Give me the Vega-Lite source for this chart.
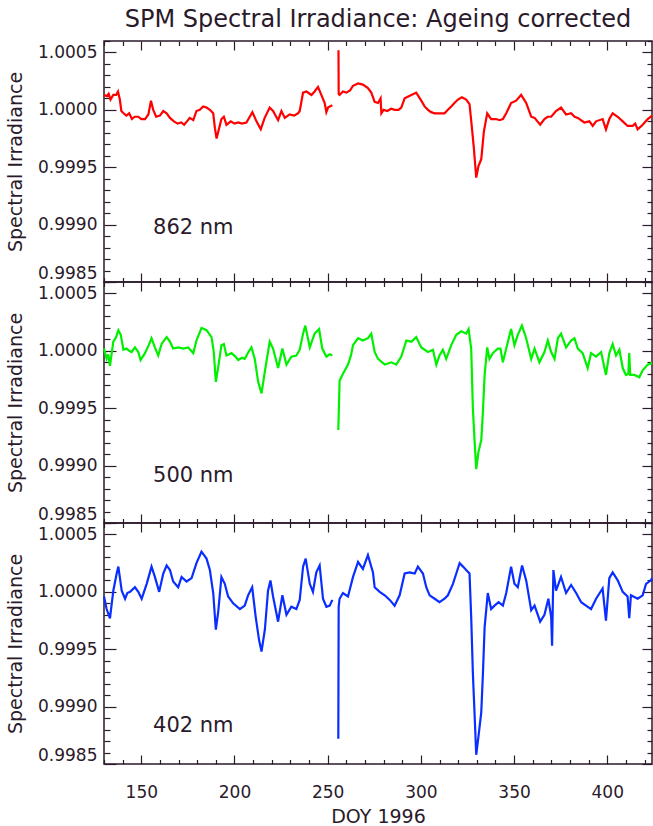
{
  "$schema": "https://vega.github.io/schema/vega-lite/v6.json",
  "padding": {"left": 5, "top": 7, "right": 0, "bottom": 0},
  "title": {
    "text": "SPM Spectral Irradiance: Ageing corrected",
    "font": "DejaVu Sans", "fontSize": 24, "fontWeight": "normal",
    "color": "#2a1a2a", "anchor": "middle", "frame": "group", "offset": 8
  },
  "datasets": {
    "r862": [
      {"doy":130,"irr":1.00013},{"doy":131.5,"irr":1.00012},{"doy":132.5,"irr":1.00014},{"doy":133.5,"irr":1.00009},{"doy":135,"irr":1.00013},{"doy":136.5,"irr":1.00013},{"doy":137.5,"irr":1.00016},{"doy":138.5,"irr":1.00009},{"doy":139.3,"irr":0.99999},{"doy":140.5,"irr":0.99997},{"doy":142,"irr":0.99995},{"doy":143.5,"irr":0.99997},{"doy":145,"irr":0.99992},{"doy":146.5,"irr":0.99994},{"doy":148.4,"irr":0.99994},{"doy":150,"irr":0.99992},{"doy":152,"irr":0.99992},{"doy":153.8,"irr":0.99996},{"doy":155.2,"irr":1.00008},{"doy":156.4,"irr":1.0},{"doy":158,"irr":0.99994},{"doy":160,"irr":0.99995},{"doy":161.8,"irr":0.99999},{"doy":163.6,"irr":0.99997},{"doy":165.4,"irr":0.99993},{"doy":167.5,"irr":0.9999},{"doy":169.5,"irr":0.99988},{"doy":171.5,"irr":0.99989},{"doy":173,"irr":0.99987},{"doy":174.5,"irr":0.9999},{"doy":176,"irr":0.99993},{"doy":177.9,"irr":0.99991},{"doy":179.6,"irr":0.99999},{"doy":181.4,"irr":1.0},{"doy":183.2,"irr":1.00003},{"doy":185,"irr":1.00002},{"doy":186.8,"irr":1.0},{"doy":188.6,"irr":0.99997},{"doy":189.5,"irr":0.99984},{"doy":190.4,"irr":0.99975},{"doy":191.3,"irr":0.99981},{"doy":193,"irr":0.99992},{"doy":194.3,"irr":0.99994},{"doy":195.7,"irr":0.99987},{"doy":198,"irr":0.9999},{"doy":200,"irr":0.99988},{"doy":202,"irr":0.99989},{"doy":204,"irr":0.99988},{"doy":206.4,"irr":0.99989},{"doy":208.2,"irr":0.99994},{"doy":209.6,"irr":0.99998},{"doy":211.8,"irr":0.9999},{"doy":214.1,"irr":0.99983},{"doy":216.2,"irr":0.99993},{"doy":218.9,"irr":1.00002},{"doy":220.7,"irr":0.99999},{"doy":223.4,"irr":0.99991},{"doy":225.2,"irr":0.99999},{"doy":227,"irr":0.99993},{"doy":229.6,"irr":0.99996},{"doy":232,"irr":0.99995},{"doy":234.1,"irr":0.99997},{"doy":235,"irr":0.99999},{"doy":236.8,"irr":1.00015},{"doy":238.6,"irr":1.00016},{"doy":241.3,"irr":1.00013},{"doy":243,"irr":1.00016},{"doy":244.8,"irr":1.0002},{"doy":246.6,"irr":1.00013},{"doy":248.4,"irr":1.00006},{"doy":249.3,"irr":0.99998},{"doy":250.2,"irr":1.00002},{"doy":251.2,"irr":1.00003},{"doy":252.5,"irr":1.00004},{"doy":254,"irr":null},{"doy":255.8,"irr":1.00052},{"doy":255.9,"irr":1.00014},{"doy":256.4,"irr":1.00013},{"doy":258.2,"irr":1.00016},{"doy":260,"irr":1.00015},{"doy":262,"irr":1.00017},{"doy":263.6,"irr":1.00021},{"doy":266.3,"irr":1.00023},{"doy":268.9,"irr":1.00022},{"doy":271.6,"irr":1.00019},{"doy":273.4,"irr":1.00015},{"doy":275.2,"irr":1.00007},{"doy":277,"irr":1.00006},{"doy":278.4,"irr":1.0001},{"doy":278.8,"irr":0.99997},{"doy":280,"irr":1.0},{"doy":282,"irr":0.99999},{"doy":284,"irr":1.00001},{"doy":286,"irr":1.0},{"doy":288,"irr":1.0},{"doy":289.5,"irr":1.00002},{"doy":291.3,"irr":1.0001},{"doy":294.9,"irr":1.00013},{"doy":297.5,"irr":1.00015},{"doy":300.2,"irr":1.00008},{"doy":302,"irr":1.00003},{"doy":303.8,"irr":1.0},{"doy":305.5,"irr":0.99998},{"doy":307.4,"irr":0.99997},{"doy":310,"irr":0.99997},{"doy":312.7,"irr":0.99997},{"doy":314.5,"irr":1.0},{"doy":316.3,"irr":1.00003},{"doy":318,"irr":1.00006},{"doy":319.9,"irr":1.00009},{"doy":322,"irr":1.00011},{"doy":324.3,"irr":1.00009},{"doy":326.1,"irr":1.00005},{"doy":327.4,"irr":0.99984},{"doy":328.4,"irr":0.99967},{"doy":329.7,"irr":0.99941},{"doy":330.9,"irr":0.99951},{"doy":332.4,"irr":0.99957},{"doy":333.8,"irr":0.99981},{"doy":335.6,"irr":0.99997},{"doy":337.7,"irr":0.99992},{"doy":340.4,"irr":0.99992},{"doy":342.2,"irr":0.99991},{"doy":344,"irr":0.99992},{"doy":345.8,"irr":0.99997},{"doy":348.4,"irr":1.00006},{"doy":351.1,"irr":1.00008},{"doy":353.8,"irr":1.00013},{"doy":356.5,"irr":1.00006},{"doy":359.2,"irr":0.99994},{"doy":361,"irr":0.99993},{"doy":364,"irr":0.99987},{"doy":366.3,"irr":0.99992},{"doy":368,"irr":0.99994},{"doy":369.9,"irr":0.99994},{"doy":372.5,"irr":0.99999},{"doy":375.2,"irr":1.00002},{"doy":377.9,"irr":0.99996},{"doy":380.6,"irr":0.99997},{"doy":382.5,"irr":0.99994},{"doy":384.2,"irr":0.99993},{"doy":387.7,"irr":0.99989},{"doy":390.4,"irr":0.9999},{"doy":392.2,"irr":0.99986},{"doy":394,"irr":0.9999},{"doy":397.5,"irr":0.99992},{"doy":399.3,"irr":0.99983},{"doy":401.1,"irr":0.99992},{"doy":402.9,"irr":0.99997},{"doy":405.6,"irr":0.99994},{"doy":408.3,"irr":0.9999},{"doy":410.9,"irr":0.99986},{"doy":413.6,"irr":0.99986},{"doy":415,"irr":0.99988},{"doy":416.3,"irr":0.99983},{"doy":419,"irr":0.99987},{"doy":421.7,"irr":0.99992},{"doy":423.4,"irr":0.99994},{"doy":424,"irr":0.99995}
    ],
    "g500": [
      {"doy":130,"irr":1.00002},{"doy":131.4,"irr":0.99993},{"doy":132.3,"irr":0.99997},{"doy":133.2,"irr":0.99987},{"doy":135,"irr":1.00008},{"doy":136.5,"irr":1.00012},{"doy":137.7,"irr":1.00018},{"doy":139,"irr":1.00014},{"doy":140.4,"irr":1.00001},{"doy":142.1,"irr":1.00002},{"doy":143.5,"irr":1.0},{"doy":144.8,"irr":0.99999},{"doy":146.6,"irr":1.00003},{"doy":148.4,"irr":0.99999},{"doy":149.6,"irr":0.99992},{"doy":152,"irr":0.99998},{"doy":154,"irr":1.00005},{"doy":155.5,"irr":1.00011},{"doy":157.3,"irr":1.00003},{"doy":159.1,"irr":0.99996},{"doy":160.9,"irr":1.00006},{"doy":163.6,"irr":1.00012},{"doy":165.4,"irr":1.00008},{"doy":167.1,"irr":1.00002},{"doy":169.8,"irr":1.00003},{"doy":172.5,"irr":1.00002},{"doy":175.2,"irr":1.00003},{"doy":177.9,"irr":0.99998},{"doy":179.6,"irr":1.00009},{"doy":182.3,"irr":1.0002},{"doy":185,"irr":1.00018},{"doy":187.7,"irr":1.00012},{"doy":188.9,"irr":0.99999},{"doy":190,"irr":0.99973},{"doy":191.3,"irr":0.99986},{"doy":193,"irr":1.00005},{"doy":194.3,"irr":1.00006},{"doy":195.7,"irr":0.99996},{"doy":198.4,"irr":0.99998},{"doy":200.5,"irr":0.99995},{"doy":202,"irr":0.99992},{"doy":204,"irr":0.99994},{"doy":205.5,"irr":0.99993},{"doy":207.5,"irr":0.99999},{"doy":209.1,"irr":1.00003},{"doy":210.9,"irr":0.99993},{"doy":212.7,"irr":0.99973},{"doy":214.5,"irr":0.99963},{"doy":216.3,"irr":0.99982},{"doy":218.9,"irr":1.00008},{"doy":220.7,"irr":1.00002},{"doy":223.4,"irr":0.99985},{"doy":225.7,"irr":1.00002},{"doy":227.9,"irr":0.99988},{"doy":230.5,"irr":0.99995},{"doy":233.2,"irr":0.99996},{"doy":235,"irr":1.00001},{"doy":236.8,"irr":1.00015},{"doy":238,"irr":1.00022},{"doy":240.4,"irr":1.00003},{"doy":243,"irr":1.00015},{"doy":245.4,"irr":1.00019},{"doy":247.1,"irr":1.00002},{"doy":249.3,"irr":0.99995},{"doy":251.1,"irr":0.99997},{"doy":252.5,"irr":0.99996},{"doy":254,"irr":null},{"doy":255.7,"irr":0.99931},{"doy":256.4,"irr":0.99974},{"doy":258.2,"irr":0.9998},{"doy":260.9,"irr":0.99988},{"doy":262.5,"irr":0.99996},{"doy":263.6,"irr":1.00005},{"doy":266.3,"irr":1.00011},{"doy":268.9,"irr":1.00009},{"doy":271.6,"irr":1.00011},{"doy":273.4,"irr":1.00015},{"doy":275.2,"irr":0.99999},{"doy":277,"irr":0.99993},{"doy":280.6,"irr":0.99988},{"doy":284.2,"irr":0.9999},{"doy":286.8,"irr":0.99988},{"doy":289.5,"irr":0.99995},{"doy":292.2,"irr":1.00009},{"doy":294.9,"irr":1.00008},{"doy":297.5,"irr":1.00012},{"doy":300.2,"irr":1.00003},{"doy":303.8,"irr":0.99999},{"doy":306.5,"irr":1.00001},{"doy":308.3,"irr":0.99988},{"doy":310,"irr":0.99996},{"doy":311.8,"irr":1.00001},{"doy":313.6,"irr":0.99993},{"doy":316.3,"irr":1.00005},{"doy":319,"irr":1.00014},{"doy":321.7,"irr":1.00017},{"doy":324.3,"irr":1.00015},{"doy":325.6,"irr":1.00019},{"doy":327,"irr":1.00002},{"doy":327.9,"irr":0.9995},{"doy":328.8,"irr":0.99922},{"doy":329.7,"irr":0.99897},{"doy":330.9,"irr":0.99912},{"doy":332.4,"irr":0.99922},{"doy":333.3,"irr":0.99947},{"doy":334.2,"irr":0.99979},{"doy":335.6,"irr":1.00003},{"doy":336.8,"irr":0.99993},{"doy":338.6,"irr":0.99998},{"doy":341.3,"irr":1.00002},{"doy":342.7,"irr":1.00002},{"doy":344,"irr":0.9999},{"doy":345.8,"irr":1.00002},{"doy":348.4,"irr":1.00019},{"doy":350.2,"irr":1.00005},{"doy":352,"irr":1.00014},{"doy":354.2,"irr":1.00022},{"doy":356.5,"irr":1.00011},{"doy":359.2,"irr":0.99993},{"doy":361,"irr":1.00002},{"doy":363.6,"irr":0.9999},{"doy":366.3,"irr":0.99999},{"doy":368.1,"irr":1.00009},{"doy":369.9,"irr":0.99999},{"doy":371.7,"irr":0.99993},{"doy":373.5,"irr":1.00011},{"doy":375.2,"irr":1.00015},{"doy":377.9,"irr":1.00003},{"doy":380.6,"irr":1.00009},{"doy":382.4,"irr":1.00011},{"doy":384.2,"irr":1.00002},{"doy":386.8,"irr":0.99998},{"doy":389.5,"irr":0.99985},{"doy":391.3,"irr":0.99998},{"doy":394,"irr":0.99995},{"doy":396.7,"irr":0.99999},{"doy":399.3,"irr":0.99979},{"doy":401.1,"irr":0.99998},{"doy":402.9,"irr":1.00006},{"doy":404.7,"irr":0.99996},{"doy":406.5,"irr":1.00001},{"doy":408.3,"irr":0.99985},{"doy":410,"irr":0.99979},{"doy":411.3,"irr":0.9998},{"doy":411.8,"irr":0.99998},{"doy":412.3,"irr":0.99979},{"doy":414.5,"irr":0.99979},{"doy":417.2,"irr":0.99977},{"doy":419,"irr":0.99983},{"doy":421.7,"irr":0.99988},{"doy":423.4,"irr":0.99989},{"doy":424,"irr":0.9999}
    ],
    "b402": [
      {"doy":130,"irr":0.99996},{"doy":131.4,"irr":0.99985},{"doy":133.2,"irr":0.99977},{"doy":135,"irr":1.00001},{"doy":136.8,"irr":1.00016},{"doy":137.7,"irr":1.00022},{"doy":139.5,"irr":1.00001},{"doy":141.3,"irr":0.99994},{"doy":142.5,"irr":0.99999},{"doy":144,"irr":1.0},{"doy":146.6,"irr":1.00004},{"doy":148.4,"irr":1.0},{"doy":150.2,"irr":0.99994},{"doy":152.9,"irr":1.00007},{"doy":155.5,"irr":1.00022},{"doy":157.3,"irr":1.00013},{"doy":159.6,"irr":1.0},{"doy":161.8,"irr":1.00016},{"doy":163.6,"irr":1.00023},{"doy":165.4,"irr":1.00019},{"doy":167.1,"irr":1.00009},{"doy":169.8,"irr":1.00004},{"doy":171.6,"irr":1.00013},{"doy":174.3,"irr":1.00009},{"doy":177,"irr":1.00012},{"doy":179.6,"irr":1.00025},{"doy":182.3,"irr":1.00035},{"doy":185,"irr":1.00029},{"doy":186.8,"irr":1.00019},{"doy":188.6,"irr":0.99999},{"doy":190,"irr":0.99967},{"doy":191.3,"irr":0.99983},{"doy":193,"irr":1.00013},{"doy":194.8,"irr":1.00007},{"doy":196.6,"irr":0.99996},{"doy":199.3,"irr":0.9999},{"doy":202.9,"irr":0.99985},{"doy":205.5,"irr":0.99988},{"doy":207.3,"irr":0.99997},{"doy":209.5,"irr":1.00004},{"doy":211.4,"irr":0.99978},{"doy":213.2,"irr":0.99958},{"doy":214.5,"irr":0.99948},{"doy":216.3,"irr":0.99967},{"doy":218,"irr":1.00001},{"doy":219.3,"irr":1.0001},{"doy":220.7,"irr":0.99996},{"doy":223.4,"irr":0.99974},{"doy":225.7,"irr":0.99997},{"doy":227.9,"irr":0.9998},{"doy":230.5,"irr":0.99987},{"doy":233.2,"irr":0.99985},{"doy":235,"irr":0.99993},{"doy":236.8,"irr":1.00022},{"doy":238.2,"irr":1.00029},{"doy":240.4,"irr":1.00007},{"doy":242.1,"irr":1.0},{"doy":243.9,"irr":1.00017},{"doy":245.7,"irr":1.00023},{"doy":247.5,"irr":0.99994},{"doy":249.3,"irr":0.99987},{"doy":251.1,"irr":0.99988},{"doy":252.5,"irr":0.99993},{"doy":254,"irr":null},{"doy":255.7,"irr":0.99872},{"doy":255.9,"irr":0.99987},{"doy":256.4,"irr":0.99994},{"doy":258.2,"irr":0.99999},{"doy":260.9,"irr":0.99996},{"doy":263.6,"irr":1.00013},{"doy":266.3,"irr":1.00026},{"doy":268.9,"irr":1.0002},{"doy":271.6,"irr":1.00032},{"doy":274.3,"irr":1.00017},{"doy":275.2,"irr":1.00004},{"doy":277.9,"irr":1.0},{"doy":280.6,"irr":0.99997},{"doy":283.3,"irr":0.99993},{"doy":285.9,"irr":0.99988},{"doy":288.6,"irr":0.99997},{"doy":291.3,"irr":1.00016},{"doy":294,"irr":1.00017},{"doy":296.7,"irr":1.00016},{"doy":298.4,"irr":1.00022},{"doy":301.1,"irr":1.00016},{"doy":302.9,"irr":1.00004},{"doy":304.7,"irr":0.99997},{"doy":307.4,"irr":0.99994},{"doy":310,"irr":0.99991},{"doy":312.7,"irr":0.99994},{"doy":314.5,"irr":0.99997},{"doy":317.2,"irr":1.00007},{"doy":319,"irr":1.00016},{"doy":320.8,"irr":1.00025},{"doy":322.6,"irr":1.00022},{"doy":324.3,"irr":1.00019},{"doy":326.1,"irr":1.00016},{"doy":327,"irr":0.99978},{"doy":327.9,"irr":0.99929},{"doy":328.8,"irr":0.99894},{"doy":329.7,"irr":0.99858},{"doy":330.9,"irr":0.99874},{"doy":332.4,"irr":0.99895},{"doy":333.3,"irr":0.99929},{"doy":334.2,"irr":0.99969},{"doy":335.9,"irr":0.99999},{"doy":337.7,"irr":0.99985},{"doy":339.5,"irr":0.99988},{"doy":341.7,"irr":0.99991},{"doy":344,"irr":0.99988},{"doy":345.8,"irr":0.99999},{"doy":348.4,"irr":1.00022},{"doy":350.2,"irr":1.00007},{"doy":352,"irr":1.00004},{"doy":354.3,"irr":1.00023},{"doy":356.5,"irr":1.0001},{"doy":359.2,"irr":0.99984},{"doy":361,"irr":0.99988},{"doy":364,"irr":0.99974},{"doy":366.3,"irr":0.9998},{"doy":368.4,"irr":0.99994},{"doy":369.9,"irr":0.99978},{"doy":370.4,"irr":0.99953},{"doy":371.1,"irr":1.00019},{"doy":372.5,"irr":1.00001},{"doy":375.2,"irr":1.00013},{"doy":377.9,"irr":0.99999},{"doy":380.6,"irr":1.00006},{"doy":383.3,"irr":0.99999},{"doy":386,"irr":0.99991},{"doy":388.6,"irr":0.99988},{"doy":391.3,"irr":0.99985},{"doy":394,"irr":0.99994},{"doy":397.5,"irr":1.00003},{"doy":399.3,"irr":0.99975},{"doy":401.1,"irr":1.00012},{"doy":402.9,"irr":1.00017},{"doy":405.6,"irr":1.0001},{"doy":408.3,"irr":1.0},{"doy":410.9,"irr":0.99996},{"doy":411.8,"irr":0.99977},{"doy":412.7,"irr":0.99997},{"doy":416.3,"irr":0.99994},{"doy":419,"irr":0.99997},{"doy":420.8,"irr":1.00007},{"doy":423.4,"irr":1.0001},{"doy":424,"irr":1.00012}
    ]
  },
  "spacing": 0,
  "bounds": "flush",
  "vconcat": [
    {
      "width": 548, "height": 241,
      "layer": [
        {
          "data": {"name": "r862"},
          "mark": {"type": "line", "color": "#ff0000", "strokeWidth": 2.2, "invalid": "break-paths-filter-domains"},
          "encoding": {
            "x": {"field": "doy", "type": "quantitative", "scale": {"domain": [130, 424], "nice": false},
                  "axis": {"orient": "bottom", "values": [150, 200, 250, 300, 350, 400], "tickSize": -9, "labels": false, "title": null}},
            "y": {"field": "irr", "type": "quantitative", "scale": {"domain": [0.9985, 1.0006], "nice": false, "zero": false},
                  "axis": {"orient": "left", "values": [0.9985, 0.999, 0.9995, 1.0, 1.0005], "tickSize": -12, "labelPadding": 19, "format": ".4f",
                           "labelBaseline": {"condition": {"test": "datum.value < 0.99855", "value": "bottom"}, "value": "middle"},
                           "title": "Spectral Irradiance", "titlePadding": 12}}
          }
        },
        {
          "data": {"values": [{"band": "862 nm"}]},
          "mark": {"type": "text", "align": "left", "baseline": "alphabetic", "font": "DejaVu Sans", "fontSize": 21, "color": "#2a1a2a"},
          "encoding": {
            "text": {"field": "band"},
            "x": {"datum": 156.3, "type": "quantitative", "axis": {"orient": "top", "values": [150, 200, 250, 300, 350, 400], "tickSize": -9, "labels": false, "title": null}},
            "y": {"datum": 0.99892, "type": "quantitative", "axis": {"orient": "right", "values": [0.9985, 0.999, 0.9995, 1.0, 1.0005], "tickSize": -10, "labels": false, "title": null}}
          }
        },
        {
          "data": {"values": [{"band": "862 nm"}]},
          "mark": {"type": "point", "opacity": 0},
          "encoding": {
            "x": {"datum": 156.3, "type": "quantitative", "axis": {"orient": "bottom", "values": [130,140,160,170,180,190,210,220,230,240,260,270,280,290,310,320,330,340,360,370,380,390,410,420], "tickSize": -4.5, "labels": false, "title": null}},
            "y": {"datum": 0.99892, "type": "quantitative", "axis": {"orient": "left", "values": [0.9986,0.9987,0.9988,0.9989,0.9991,0.9992,0.9993,0.9994,0.9996,0.9997,0.9998,0.9999,1.0001,1.0002,1.0003,1.0004,1.0006], "tickSize": -6, "labels": false, "title": null}}
          }
        },
        {
          "data": {"values": [{"band": "862 nm"}]},
          "mark": {"type": "point", "opacity": 0},
          "encoding": {
            "x": {"datum": 156.3, "type": "quantitative", "axis": {"orient": "top", "values": [130,140,160,170,180,190,210,220,230,240,260,270,280,290,310,320,330,340,360,370,380,390,410,420], "tickSize": -4.5, "labels": false, "title": null}},
            "y": {"datum": 0.99892, "type": "quantitative", "axis": {"orient": "right", "values": [0.9986,0.9987,0.9988,0.9989,0.9991,0.9992,0.9993,0.9994,0.9996,0.9997,0.9998,0.9999,1.0001,1.0002,1.0003,1.0004,1.0006], "tickSize": -5, "labels": false, "title": null}}
          }
        }
      ],
      "resolve": {"axis": {"x": "independent", "y": "independent"}}
    },
    {
      "width": 548, "height": 241,
      "layer": [
        {
          "data": {"name": "g500"},
          "mark": {"type": "line", "color": "#00f000", "strokeWidth": 2.2, "invalid": "break-paths-filter-domains"},
          "encoding": {
            "x": {"field": "doy", "type": "quantitative", "scale": {"domain": [130, 424], "nice": false},
                  "axis": {"orient": "bottom", "values": [150, 200, 250, 300, 350, 400], "tickSize": -9, "labels": false, "title": null}},
            "y": {"field": "irr", "type": "quantitative", "scale": {"domain": [0.9985, 1.0006], "nice": false, "zero": false},
                  "axis": {"orient": "left", "values": [0.9985, 0.999, 0.9995, 1.0, 1.0005], "tickSize": -12, "labelPadding": 19, "format": ".4f",
                           "labelBaseline": {"condition": {"test": "datum.value < 0.99855", "value": "bottom"}, "value": "middle"},
                           "title": "Spectral Irradiance", "titlePadding": 12}}
          }
        },
        {
          "data": {"values": [{"band": "500 nm"}]},
          "mark": {"type": "text", "align": "left", "baseline": "alphabetic", "font": "DejaVu Sans", "fontSize": 21, "color": "#2a1a2a"},
          "encoding": {
            "text": {"field": "band"},
            "x": {"datum": 156.3, "type": "quantitative", "axis": {"orient": "top", "values": [150, 200, 250, 300, 350, 400], "tickSize": -9, "labels": false, "title": null}},
            "y": {"datum": 0.99886, "type": "quantitative", "axis": {"orient": "right", "values": [0.9985, 0.999, 0.9995, 1.0, 1.0005], "tickSize": -10, "labels": false, "title": null}}
          }
        },
        {
          "data": {"values": [{"band": "500 nm"}]},
          "mark": {"type": "point", "opacity": 0},
          "encoding": {
            "x": {"datum": 156.3, "type": "quantitative", "axis": {"orient": "bottom", "values": [130,140,160,170,180,190,210,220,230,240,260,270,280,290,310,320,330,340,360,370,380,390,410,420], "tickSize": -4.5, "labels": false, "title": null}},
            "y": {"datum": 0.99886, "type": "quantitative", "axis": {"orient": "left", "values": [0.9986,0.9987,0.9988,0.9989,0.9991,0.9992,0.9993,0.9994,0.9996,0.9997,0.9998,0.9999,1.0001,1.0002,1.0003,1.0004,1.0006], "tickSize": -6, "labels": false, "title": null}}
          }
        },
        {
          "data": {"values": [{"band": "500 nm"}]},
          "mark": {"type": "point", "opacity": 0},
          "encoding": {
            "x": {"datum": 156.3, "type": "quantitative", "axis": {"orient": "top", "values": [130,140,160,170,180,190,210,220,230,240,260,270,280,290,310,320,330,340,360,370,380,390,410,420], "tickSize": -4.5, "labels": false, "title": null}},
            "y": {"datum": 0.99886, "type": "quantitative", "axis": {"orient": "right", "values": [0.9986,0.9987,0.9988,0.9989,0.9991,0.9992,0.9993,0.9994,0.9996,0.9997,0.9998,0.9999,1.0001,1.0002,1.0003,1.0004,1.0006], "tickSize": -5, "labels": false, "title": null}}
          }
        }
      ],
      "resolve": {"axis": {"x": "independent", "y": "independent"}}
    },
    {
      "width": 548, "height": 241,
      "layer": [
        {
          "data": {"name": "b402"},
          "mark": {"type": "line", "color": "#0a2eff", "strokeWidth": 2.2, "invalid": "break-paths-filter-domains"},
          "encoding": {
            "x": {"field": "doy", "type": "quantitative", "scale": {"domain": [130, 424], "nice": false},
                  "axis": {"orient": "bottom", "values": [150, 200, 250, 300, 350, 400], "tickSize": -9, "labelPadding": 29, "format": "d", "title": "DOY 1996", "titlePadding": 7}},
            "y": {"field": "irr", "type": "quantitative", "scale": {"domain": [0.9985, 1.0006], "nice": false, "zero": false},
                  "axis": {"orient": "left", "values": [0.9985, 0.999, 0.9995, 1.0, 1.0005], "tickSize": -12, "labelPadding": 19, "format": ".4f",
                           "labelBaseline": {"condition": {"test": "datum.value < 0.99855", "value": "bottom"}, "value": "middle"},
                           "title": "Spectral Irradiance", "titlePadding": 12}}
          }
        },
        {
          "data": {"values": [{"band": "402 nm"}]},
          "mark": {"type": "text", "align": "left", "baseline": "alphabetic", "font": "DejaVu Sans", "fontSize": 21, "color": "#2a1a2a"},
          "encoding": {
            "text": {"field": "band"},
            "x": {"datum": 156.3, "type": "quantitative", "axis": {"orient": "top", "values": [150, 200, 250, 300, 350, 400], "tickSize": -9, "labels": false, "title": null}},
            "y": {"datum": 0.99878, "type": "quantitative", "axis": {"orient": "right", "values": [0.9985, 0.999, 0.9995, 1.0, 1.0005], "tickSize": -10, "labels": false, "title": null}}
          }
        },
        {
          "data": {"values": [{"band": "402 nm"}]},
          "mark": {"type": "point", "opacity": 0},
          "encoding": {
            "x": {"datum": 156.3, "type": "quantitative", "axis": {"orient": "bottom", "values": [130,140,160,170,180,190,210,220,230,240,260,270,280,290,310,320,330,340,360,370,380,390,410,420], "tickSize": -4.5, "labels": false, "title": null}},
            "y": {"datum": 0.99878, "type": "quantitative", "axis": {"orient": "left", "values": [0.9986,0.9987,0.9988,0.9989,0.9991,0.9992,0.9993,0.9994,0.9996,0.9997,0.9998,0.9999,1.0001,1.0002,1.0003,1.0004,1.0006], "tickSize": -6, "labels": false, "title": null}}
          }
        },
        {
          "data": {"values": [{"band": "402 nm"}]},
          "mark": {"type": "point", "opacity": 0},
          "encoding": {
            "x": {"datum": 156.3, "type": "quantitative", "axis": {"orient": "top", "values": [130,140,160,170,180,190,210,220,230,240,260,270,280,290,310,320,330,340,360,370,380,390,410,420], "tickSize": -4.5, "labels": false, "title": null}},
            "y": {"datum": 0.99878, "type": "quantitative", "axis": {"orient": "right", "values": [0.9986,0.9987,0.9988,0.9989,0.9991,0.9992,0.9993,0.9994,0.9996,0.9997,0.9998,0.9999,1.0001,1.0002,1.0003,1.0004,1.0006], "tickSize": -5, "labels": false, "title": null}}
          }
        }
      ],
      "resolve": {"axis": {"x": "independent", "y": "independent"}}
    }
  ],
  "config": {
    "background": "#ffffff",
    "view": {"stroke": "#2a1a2a", "strokeWidth": 1.5},
    "axis": {
      "domain": false, "grid": false,
      "tickColor": "#2a1a2a", "tickWidth": 1.2,
      "labelFont": "DejaVu Sans", "labelFontSize": 17, "labelColor": "#2a1a2a",
      "labelOverlap": false, "labelFlush": false,
      "titleFont": "DejaVu Sans", "titleFontSize": 19, "titleFontWeight": "normal", "titleColor": "#2a1a2a"
    }
  }
}
